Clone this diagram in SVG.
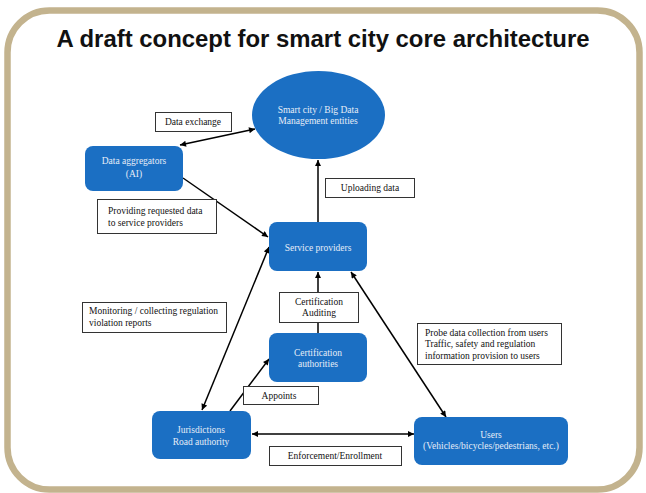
<svg xmlns="http://www.w3.org/2000/svg" width="646" height="493" viewBox="0 0 646 493">
<defs>
<marker id="ah" viewBox="0 0 10 10" refX="10" refY="5" markerWidth="7" markerHeight="6" markerUnits="userSpaceOnUse" orient="auto-start-reverse">
<path d="M0,0 L10,5 L0,10 z" fill="#000"/>
</marker>
<style>
.node{fill:#1b6fc3;}
.nt{font-family:"Liberation Serif","Times New Roman",serif;font-size:9.5px;fill:#e6edf7;text-anchor:middle;}
.lb{fill:#fff;stroke:#333;stroke-width:1;}
.lt{font-family:"Liberation Serif","Times New Roman",serif;font-size:9.5px;fill:#111;}
.c{text-anchor:middle;}
.ln{stroke:#000;stroke-width:1.5;fill:none;}
</style>
</defs>
<rect x="0" y="0" width="646" height="493" fill="#fff"/>
<rect x="7.5" y="10.5" width="632" height="479" rx="42" fill="#fff" stroke="#c3b38e" stroke-width="6.5"/>
<text x="323" y="47" font-family="Liberation Sans, Arial, sans-serif" font-size="23" font-weight="bold" text-anchor="middle" textLength="533" lengthAdjust="spacingAndGlyphs" fill="#111">A draft concept for smart city core architecture</text>

<g id="connectors">
<line class="ln" x1="180" y1="145" x2="255" y2="129" marker-start="url(#ah)" marker-end="url(#ah)"/>
<line class="ln" x1="183" y1="178" x2="268" y2="237" marker-end="url(#ah)"/>
<line class="ln" x1="318" y1="222" x2="318" y2="160" marker-end="url(#ah)"/>
<line class="ln" x1="318" y1="333" x2="318" y2="272" marker-end="url(#ah)"/>
<line class="ln" x1="202" y1="410" x2="269" y2="247" marker-start="url(#ah)" marker-end="url(#ah)"/>
<line class="ln" x1="230" y1="411" x2="269" y2="359" marker-end="url(#ah)"/>
<line class="ln" x1="351" y1="272" x2="446" y2="417" marker-start="url(#ah)" marker-end="url(#ah)"/>
<line class="ln" x1="252" y1="434" x2="414" y2="434" marker-start="url(#ah)" marker-end="url(#ah)"/>
</g>

<g id="lbl-data-exchange">
<rect class="lb" x="155.5" y="112.5" width="76" height="19"/>
<text class="lt c" x="193" y="125">Data exchange</text>
</g>
<g id="lbl-providing">
<rect class="lb" x="97.5" y="199.5" width="119" height="34"/>
<text class="lt" x="108" y="214">Providing requested data</text>
<text class="lt" x="108" y="226">to service providers</text>
</g>
<g id="lbl-uploading">
<rect class="lb" x="325.5" y="178.5" width="89" height="19"/>
<text class="lt c" x="370" y="191">Uploading data</text>
</g>
<g id="lbl-monitoring">
<rect class="lb" x="82.5" y="302.5" width="144" height="30"/>
<text class="lt" x="89" y="314">Monitoring / collecting regulation</text>
<text class="lt" x="89" y="326">violation reports</text>
</g>
<g id="lbl-cert-auditing">
<rect class="lb" x="279.5" y="292.5" width="79" height="30"/>
<text class="lt c" x="319" y="305">Certification</text>
<text class="lt c" x="319" y="316">Auditing</text>
</g>
<g id="lbl-appoints">
<rect class="lb" x="243.5" y="386.5" width="75" height="18"/>
<text class="lt c" x="279" y="399">Appoints</text>
</g>
<g id="lbl-probe">
<rect class="lb" x="417.5" y="323.5" width="144" height="41"/>
<text class="lt" x="425" y="336">Probe data collection from users</text>
<text class="lt" x="425" y="347">Traffic, safety and regulation</text>
<text class="lt" x="425" y="359">information provision to users</text>
</g>
<g id="lbl-enforcement">
<rect class="lb" x="269.5" y="446.5" width="132" height="19"/>
<text class="lt c" x="335" y="459">Enforcement/Enrollment</text>
</g>

<g id="smart-city">
<ellipse class="node" cx="318.5" cy="115" rx="66.5" ry="44"/>
<text class="nt" x="318" y="113">Smart city / Big Data</text>
<text class="nt" x="318" y="124">Management entities</text>
</g>
<g id="data-aggregators">
<rect class="node" x="85" y="146" width="98" height="45" rx="8"/>
<text class="nt" x="134" y="164">Data aggregators</text>
<text class="nt" x="134" y="177">(AI)</text>
</g>
<g id="service-providers">
<rect class="node" x="269" y="222" width="98" height="49" rx="8"/>
<text class="nt" x="318" y="251">Service providers</text>
</g>
<g id="cert-authorities">
<rect class="node" x="269" y="333" width="98" height="49" rx="8"/>
<text class="nt" x="318" y="356">Certification</text>
<text class="nt" x="318" y="367">authorities</text>
</g>
<g id="jurisdictions">
<rect class="node" x="152" y="411" width="99" height="48" rx="8"/>
<text class="nt" x="201" y="433">Jurisdictions</text>
<text class="nt" x="201" y="445">Road authority</text>
</g>
<g id="users">
<rect class="node" x="414" y="417" width="154" height="48" rx="8"/>
<text class="nt" x="491" y="438">Users</text>
<text class="nt" x="491" y="449">(Vehicles/bicycles/pedestrians, etc.)</text>
</g>
</svg>
